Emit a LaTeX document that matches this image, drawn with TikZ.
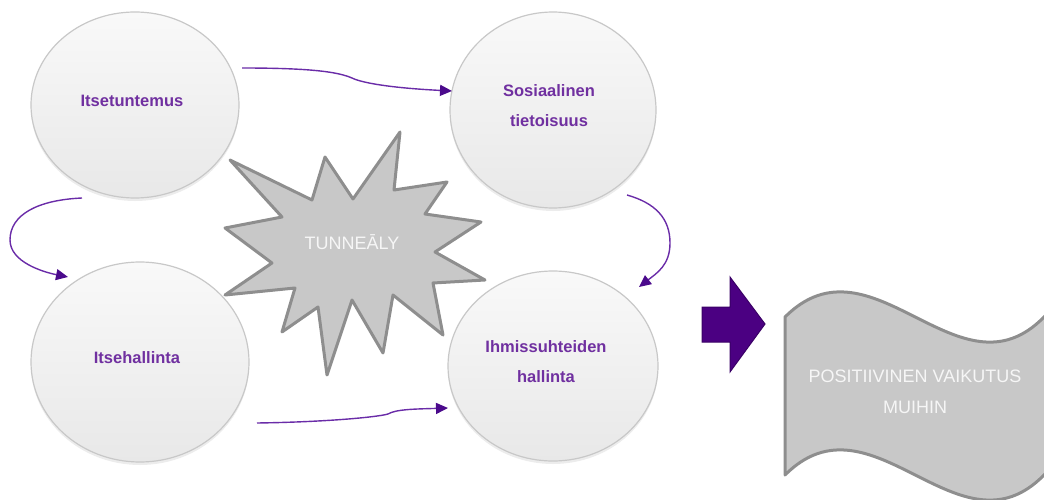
\documentclass[tikz,border=0pt]{standalone}
\usepackage{fontspec}
\setmainfont{Liberation Sans}
\usetikzlibrary{shapes.geometric,arrows.meta,shadows}
\definecolor{txtpurple}{HTML}{7030A0}
\definecolor{linepurple}{HTML}{6A2CA8}
\definecolor{headpurple}{HTML}{4B0A8C}
\definecolor{circborder}{HTML}{C8C8C8}
\definecolor{circtop}{HTML}{F9F9F9}
\definecolor{circbot}{HTML}{E8E8E8}
\definecolor{grayfill}{HTML}{C8C8C8}
\definecolor{graystroke}{HTML}{8E8E8E}
\definecolor{bigarrow}{HTML}{4B0082}
\definecolor{bigarrowline}{HTML}{3A0066}
\definecolor{lighttext}{HTML}{F6F6F6}
\tikzset{
 bubble/.style={ellipse, draw=circborder, line width=1.2pt, top color=circtop, bottom color=circbot, inner sep=0pt,
   drop shadow={shadow xshift=0pt, shadow yshift=-3pt, opacity=0.15}},
 bubbletext/.style={text=txtpurple, font=\fontsize{16.5}{30}\selectfont\bfseries, align=center, inner sep=0pt},
 flow/.style={draw=linepurple, line width=1.4pt, -{Triangle[length=12pt,width=11pt,color=headpurple]}},
 graybody/.style={fill=grayfill, draw=graystroke, line width=3pt, line join=round},
 graytext/.style={text=lighttext, font=\fontsize{18}{31}\selectfont, align=center, inner sep=0pt},
 blockarrow/.style={fill=bigarrow, draw=bigarrowline, line width=1pt, line join=miter},
}
\begin{document}
\begin{tikzpicture}[x=1pt,y=-1pt]
\useasboundingbox (0,0) rectangle (1044,500);
\clip (0,0) rectangle (1044,500);

% bubbles
\node[bubble, minimum width=208pt, minimum height=186pt] (itse) at (135,105) {};
\node[bubble, minimum width=206pt, minimum height=196pt] (sos) at (553,110) {};
\node[bubble, minimum width=218pt, minimum height=200pt] (hall) at (140,362) {};
\node[bubble, minimum width=210pt, minimum height=190pt] (ihm) at (553,366) {};

\node[bubbletext] (titse) at (132,101) {Itsetuntemus};
\node[bubbletext] (tsos) at (549,106) {Sosiaalinen\\tietoisuus};
\node[bubbletext] (thall) at (137,358) {Itsehallinta};
\node[bubbletext] (tihm) at (546,362) {Ihmissuhteiden\\hallinta};

% star
\draw[graybody] (230,160) -- (312,200) -- (325,157) -- (353,199) -- (400,132) -- (394,190)
  -- (447,182) -- (425,214) -- (481,222) -- (435,252) -- (485,280) -- (433,283)
  -- (443,335) -- (393,295) -- (383,353) -- (352,300) -- (327,375) -- (318,307)
  -- (282,332) -- (295,288) -- (225,295) -- (272,263) -- (225,228) -- (282,217) -- cycle;
\node[graytext] (tstar) at (352,242) {TUNNEĀLY};

% connectors
\coordinate (w1) at (352,78);
\coordinate (w2) at (10,240);
\coordinate (w3) at (670,243);
\coordinate (w4) at (388,414);
\draw[flow] ([shift={(107,-37)}]itse.center) .. controls +(70,0) and +(-14,-6) .. (w1)
  .. controls +(10,5) and +(-60,-3) .. ([shift={(-101,-19)}]sos.center);
\draw[flow] ([shift={(-53,93)}]itse.center) .. controls +(-45,2) and +(0,-25) .. (w2)
  .. controls +(0,22) and +(-25,-5) .. ([shift={(-72,-85)}]hall.center);
\draw[flow] ([shift={(74,85)}]sos.center) .. controls +(28,8) and +(0,-25) .. (w3)
  .. controls +(0,22) and +(18,-14) .. ([shift={(86,-79)}]ihm.center);
\draw[flow] ([shift={(117,61)}]hall.center) .. controls +(70,-1) and +(-10,3) .. (w4)
  .. controls +(8,-5) and +(-30,1) .. ([shift={(-105,42)}]ihm.center);

% block arrow
\draw[blockarrow] (702,307) -- (730,307) -- (730,277) -- (765,324) -- (730,372) -- (730,342) -- (702,342) -- cycle;

% wave
\draw[graybody] (785,317) .. controls (872,230) and (959,404) .. (1044,317) -- (1075,285) -- (1075,445)
  -- (1044,475) .. controls (959,562) and (872,388) .. (785,475) -- cycle;
\node[graytext] (twave) at (915,392) {POSITIIVINEN VAIKUTUS\\MUIHIN};
\end{tikzpicture}
\end{document}
